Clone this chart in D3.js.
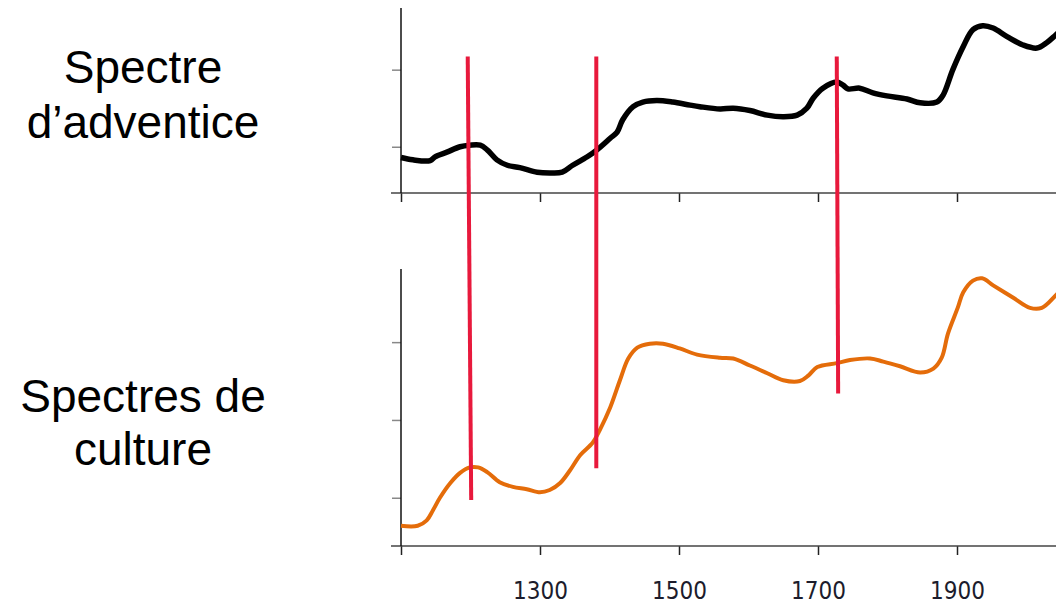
<!DOCTYPE html>
<html>
<head>
<meta charset="utf-8">
<script src="https://cdn.jsdelivr.net/npm/d3@7"></script>
<style>
  body { margin: 0; background: #fff; }
  svg { display: block; }
</style>
</head>
<body>
<svg class="chart" width="1056" height="606"></svg>
<script>
// wavenumbers / absorbance
var weedX = [1100, 1117, 1142, 1149, 1166, 1185, 1199, 1214, 1224, 1238, 1253, 1271, 1296, 1314, 1332, 1347,
    1368, 1382, 1401, 1411, 1419, 1434, 1448, 1468, 1491, 1516, 1530, 1559, 1578, 1602, 1627, 1650, 1670,
    1684, 1693, 1707, 1727, 1736, 1743, 1760, 1779, 1799, 1828, 1847, 1871, 1880, 1894, 1909, 1923, 1937,
    1952, 1972, 1995, 2015, 2029, 2042, 2060];
var weedY = [0.086, 0.083, 0.082, 0.087, 0.093, 0.100, 0.102, 0.102, 0.096, 0.083, 0.076, 0.073, 0.067, 0.066,
    0.067, 0.076, 0.087, 0.096, 0.111, 0.119, 0.135, 0.152, 0.158, 0.160, 0.158, 0.154, 0.152, 0.149, 0.150,
    0.147, 0.141, 0.139, 0.141, 0.150, 0.163, 0.176, 0.184, 0.180, 0.175, 0.176, 0.170, 0.166, 0.162, 0.157,
    0.158, 0.167, 0.200, 0.230, 0.252, 0.257, 0.254, 0.243, 0.232, 0.228, 0.235, 0.245, 0.260];

var cropX = [1100, 1124, 1137, 1146, 1156, 1171, 1185, 1199, 1211, 1224, 1242, 1261, 1281, 1300, 1314, 1329,
    1343, 1358, 1376, 1386, 1401, 1415, 1427, 1440, 1458, 1477, 1501, 1526, 1559, 1578, 1602, 1627, 1650,
    1674, 1686, 1699, 1727, 1746, 1775, 1794, 1818, 1847, 1866, 1878, 1887, 1901, 1909, 1923, 1936, 1952,
    1981, 2005, 2022, 2042, 2060];
var cropY = [0.064, 0.064, 0.071, 0.084, 0.100, 0.119, 0.132, 0.139, 0.139, 0.133, 0.120, 0.114, 0.111, 0.107,
    0.110, 0.119, 0.135, 0.155, 0.171, 0.187, 0.216, 0.251, 0.279, 0.293, 0.298, 0.298, 0.292, 0.284, 0.280,
    0.279, 0.270, 0.260, 0.251, 0.250, 0.257, 0.268, 0.273, 0.277, 0.279, 0.275, 0.269, 0.261, 0.266, 0.280,
    0.311, 0.344, 0.364, 0.379, 0.382, 0.373, 0.357, 0.344, 0.344, 0.360, 0.378];

// red marker lines: x at top / bottom, top end (weed scale), bottom end (crop scale)
var markXTop = [1196, 1381, 1727];
var markXBottom = [1201, 1381, 1729];
var markTopY = [0.217, 0.217, 0.217];
var markBottomY = [0.097, 0.138, 0.234];

var xTicks = [1100, 1300, 1500, 1700, 1900];
var weedTicks = [0.1, 0.2];
var cropTicks = [0.1, 0.2, 0.3];

var svg = d3.select(".chart");

var x = d3.scaleLinear()
    .domain([1100, 2100])
    .range([401, 1096]);

var yWeed = d3.scaleLinear().domain([0.04, 0.28]).range([193, 8]);
var yCrop = d3.scaleLinear().domain([0.038, 0.394]).range([546, 269]);

function drawPanel(y, ticks, labels) {
    var g = svg.append("g");
    var y0 = y.range()[0];

    // x axis
    var xa = g.append("g")
        .attr("transform", "translate(0," + y0 + ")")
        .call(d3.axisBottom(x).tickValues(xTicks).tickSize(9).tickPadding(27)
            .tickFormat(function (d) { return labels && d > 1100 ? d : ""; }));
    xa.select(".domain").remove();
    xa.selectAll(".tick line").attr("stroke", "#222").attr("stroke-width", 1.5);
    xa.selectAll(".tick text")
        .attr("font-family", "'DejaVu Sans Condensed', sans-serif")
        .attr("font-size", 24)
        .attr("fill", "#1c1c2c");
    g.append("line")
        .attr("x1", x(1100) - 10).attr("x2", 1056)
        .attr("y1", y0).attr("y2", y0)
        .attr("stroke", "#444").attr("stroke-width", 1.5);

    // y axis
    var ya = g.append("g")
        .attr("transform", "translate(" + x(1100) + ",0)")
        .call(d3.axisLeft(y).tickValues(ticks).tickSize(9).tickFormat(""));
    ya.select(".domain").remove();
    ya.selectAll(".tick line").attr("stroke", "#888").attr("stroke-width", 1.5);
    g.append("line")
        .attr("x1", x(1100)).attr("x2", x(1100))
        .attr("y1", y.range()[1]).attr("y2", y0)
        .attr("stroke", "#111").attr("stroke-width", 1.5);
}

drawPanel(yWeed, weedTicks, false);
drawPanel(yCrop, cropTicks, true);

// spectra
var weedLine = d3.line()
    .x(function (d, i) { return x(weedX[i]); })
    .y(function (d) { return yWeed(d); })
    .curve(d3.curveCatmullRom.alpha(0.5));

var cropLine = d3.line()
    .x(function (d, i) { return x(cropX[i]); })
    .y(function (d) { return yCrop(d); })
    .curve(d3.curveCatmullRom.alpha(0.5));

svg.append("path")
    .attr("d", weedLine(weedY))
    .attr("fill", "none")
    .attr("stroke", "#000")
    .attr("stroke-width", 5.5)
    .attr("stroke-linejoin", "round");

svg.append("path")
    .attr("d", cropLine(cropY))
    .attr("fill", "none")
    .attr("stroke", "#e46c0a")
    .attr("stroke-width", 4)
    .attr("stroke-linejoin", "round");

// red markers
svg.selectAll(".mark")
    .data(markXTop)
    .enter().append("line")
    .attr("class", "mark")
    .attr("x1", function (d) { return x(d); })
    .attr("y1", function (d, i) { return yWeed(markTopY[i]); })
    .attr("x2", function (d, i) { return x(markXBottom[i]); })
    .attr("y2", function (d, i) { return yCrop(markBottomY[i]); })
    .attr("stroke", "#e8193c")
    .attr("stroke-width", 4);

// side labels
var sideLabels = [["Spectre", 83], ["d\u2019adventice", 138], ["Spectres de", 412], ["culture", 465]];
svg.selectAll(".side")
    .data(sideLabels)
    .enter().append("text")
    .attr("class", "side")
    .attr("x", 143)
    .attr("y", function (d) { return d[1]; })
    .attr("text-anchor", "middle")
    .attr("font-family", "'Liberation Sans', Arial, sans-serif")
    .attr("font-size", 46)
    .attr("fill", "#000")
    .text(function (d) { return d[0]; });
</script>
</body>
</html>
